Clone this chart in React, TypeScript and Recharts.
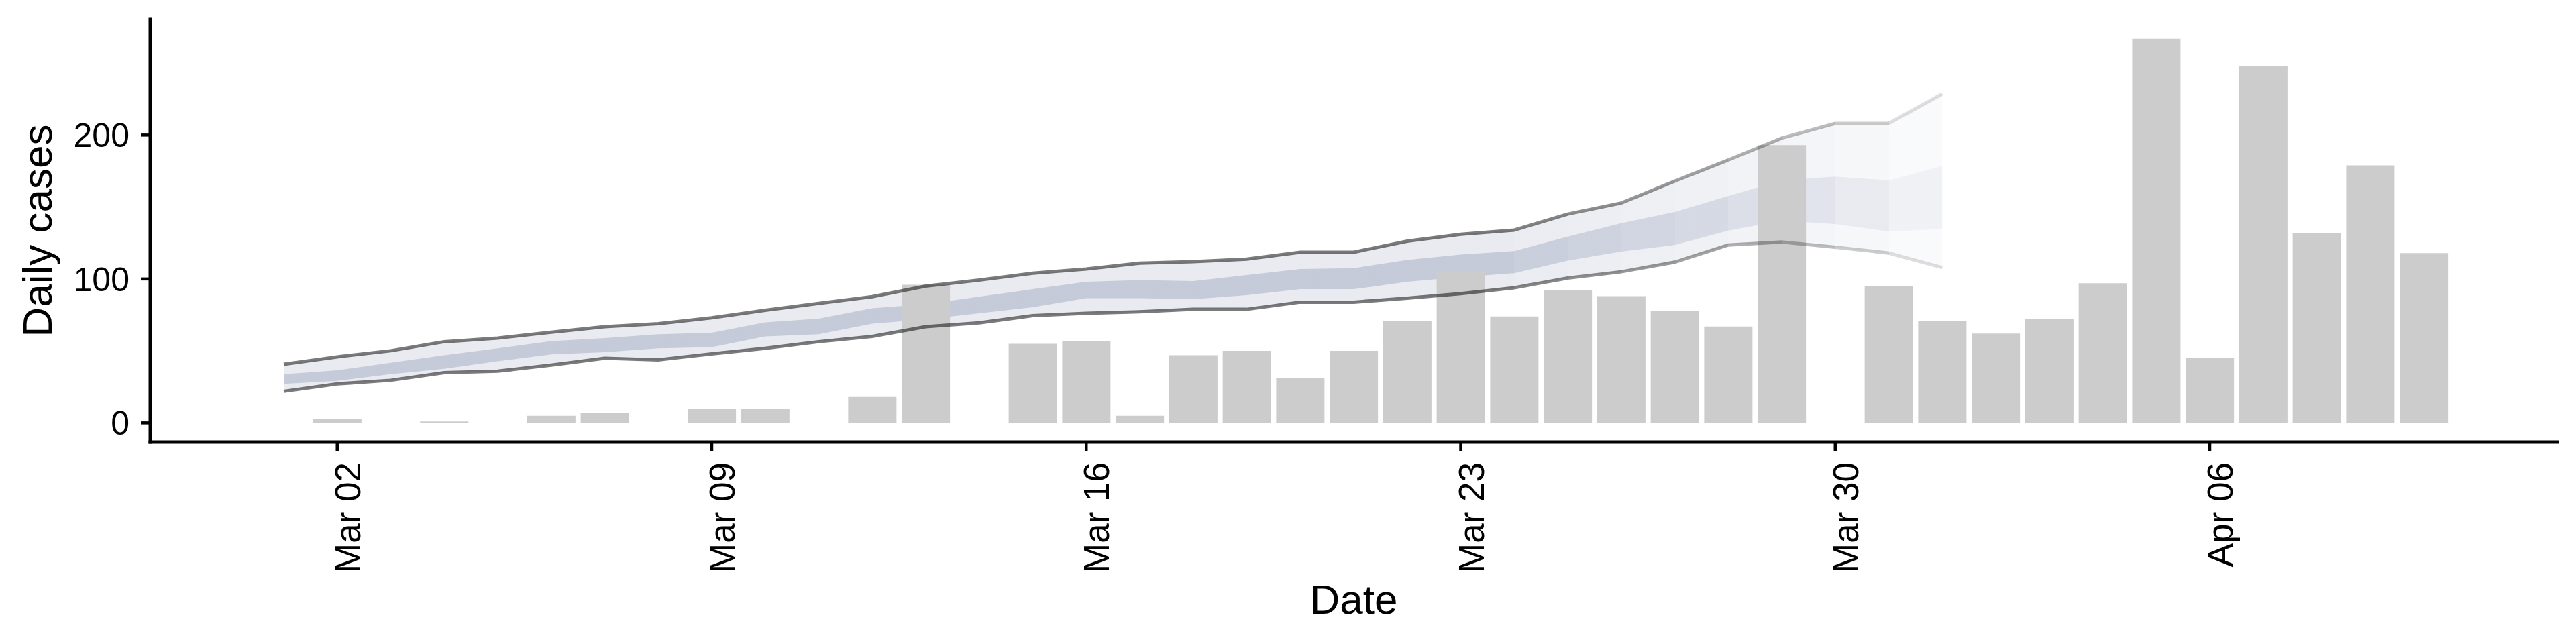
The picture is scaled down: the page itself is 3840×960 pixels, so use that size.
import React from "react";
import { ComposedChart, Bar, Area, Line, XAxis, YAxis } from "recharts";

// day index 0 = Mar 01
const tickDays = [1, 8, 15, 22, 29, 36];
const tickLabels = ["Mar 02", "Mar 09", "Mar 16", "Mar 23", "Mar 30", "Apr 06"];

// reported daily cases, Mar 01 .. Apr 10 (null = no bar)
const cases = [
  null, 3, null, 1, null, 5, 7, null, 10, 10, null, 18, 96, null, 55, 57, 5,
  47, 50, 31, 50, 71, 105, 74, 92, 88, 78, 67, 193, null, 95, 71, 62, 72, 97,
  267, 45, 248, 132, 179, 118,
];

// estimated cases, Mar 01 .. Apr 01
const lo90 = [
  21.9, 27.1, 29.6, 34.9, 35.9, 40.1, 44.9, 43.8, 48, 51.8, 56.4, 60.1, 66.8,
  69.5, 74.5, 76.2, 77.2, 78.9, 78.9, 83.9, 83.9, 86.6, 89.8, 93.9, 100.6, 105,
  111.7, 123.6, 125.7, 122.1, 118, 107.9,
];
const hi90 = [
  40.7, 45.9, 50.1, 56.4, 58.9, 63, 66.8, 68.9, 73, 78.3, 83, 87.7, 95, 99.2,
  104, 106.9, 111, 112.1, 113.8, 118.6, 118.6, 126.3, 131.1, 134, 145.1, 152.8,
  168, 182.7, 197.9, 208.1, 208.1, 228.6,
];
const lo50 = [
  27.1, 29.2, 33.8, 37.6, 42.8, 47.6, 49.1, 51.8, 52.6, 60.1, 61.6, 68.9, 72,
  76.2, 80.4, 86.6, 86.6, 86, 88.7, 92.9, 92.9, 98.1, 101.3, 104, 112.7, 119,
  123.6, 133.6, 140.5, 138.2, 133, 134.7,
];
const hi50 = [
  33.8, 36.5, 41.8, 47, 51.8, 56.8, 58.9, 61.6, 62.6, 69.9, 72.4, 79.7, 82.5,
  87.7, 92.9, 98.1, 99.2, 98.5, 102.7, 106.9, 107.5, 113.2, 116.9, 119.4, 129.4,
  138.8, 146.6, 157.6, 168.5, 171.2, 168.5, 178.5,
];

// opacity multiplier for each day-to-day segment of the estimate (recent days fade)
const fade = [
  1, 1, 1, 1, 1, 1, 1, 1, 1, 1, 1, 1, 1, 1, 1, 1, 1, 1, 1, 1, 1, 1, 1,
  0.92, 0.85, 0.78, 0.7, 0.6, 0.5, 0.38, 0.25,
];

const data = cases.map((c, i) => ({
  day: i,
  cases: c,
  band90: i < lo90.length ? [lo90[i], hi90[i]] : null,
  band50: i < lo50.length ? [lo50[i], hi50[i]] : null,
  lo90: i < lo90.length ? lo90[i] : null,
  hi90: i < hi90.length ? hi90[i] : null,
}));

const FONT = "'Liberation Sans', Arial, Helvetica, sans-serif";

function fadeGradient(id: string, color: string, base: number) {
  const n = fade.length;
  return (
    <linearGradient id={id} x1="0" y1="0" x2="1" y2="0">
      {fade.flatMap((m, k) => [
        <stop key={k + "a"} offset={k / n} stopColor={color} stopOpacity={base * m} />,
        <stop key={k + "b"} offset={(k + 1) / n} stopColor={color} stopOpacity={base * m} />,
      ])}
    </linearGradient>
  );
}

const XTick = (props: any) => {
  const { x, y, payload } = props;
  const label = tickLabels[tickDays.indexOf(payload.value)];
  const tx = x + 34;
  return (
    <text
      x={tx}
      y={y}
      transform={`rotate(-90, ${tx}, ${y})`}
      textAnchor="end"
      fontSize={53}
      fontFamily={FONT}
      fill="#000"
    >
      {label}
    </text>
  );
};

export default function App() {
  return (
    <div style={{ position: "absolute", left: 0, top: 0, background: "#fff" }}>
      <ComposedChart
        width={3840}
        height={960}
        data={data}
        margin={{ top: 29, right: 28, bottom: 0, left: 0 }}
        style={{ fontFamily: FONT }}
      >
        <defs>
          {fadeGradient("g90", "#23376f", 0.1)}
          {fadeGradient("g50", "#23376f", 0.18)}
          {fadeGradient("gline", "#000000", 0.52)}
        </defs>
        <XAxis
          dataKey="day"
          type="number"
          domain={[-2.495, 42.495]}
          allowDataOverflow
          ticks={tickDays}
          interval={0}
          height={301}
          tick={<XTick />}
          tickSize={14}
          tickMargin={16}
          axisLine={{ stroke: "#000", strokeWidth: 5, strokeLinecap: "square" }}
          tickLine={{ stroke: "#000", strokeWidth: 4.5 }}
          label={{
            content: (p: any) => {
              const vb = p.viewBox;
              return (
                <text
                  x={vb.x + vb.width / 2}
                  y={vb.y + 256}
                  textAnchor="middle"
                  fontSize={62}
                  fontFamily={FONT}
                  fill="#000"
                >
                  Date
                </text>
              );
            },
          }}
        />
        <YAxis
          type="number"
          domain={[-13.35, 280.35]}
          allowDataOverflow
          ticks={[0, 100, 200]}
          width={224}
          tickSize={14}
          tickMargin={17}
          tick={{ fontSize: 50, fill: "#000", fontFamily: FONT }}
          axisLine={{ stroke: "#000", strokeWidth: 5, strokeLinecap: "square" }}
          tickLine={{ stroke: "#000", strokeWidth: 4.5 }}
          label={{
            content: (p: any) => {
              const vb = p.viewBox;
              const lx = vb.x + 77;
              const ly = vb.y + vb.height / 2;
              return (
                <text
                  x={lx}
                  y={ly}
                  transform={`rotate(-90, ${lx}, ${ly})`}
                  textAnchor="middle"
                  fontSize={62}
                  fontFamily={FONT}
                  fill="#000"
                >
                  Daily cases
                </text>
              );
            },
          }}
        />
        <Bar dataKey="cases" fill="#cccccc" barSize={72} isAnimationActive={false} />
        <Area
          dataKey="band90"
          type="linear"
          fill="url(#g90)"
          fillOpacity={1}
          stroke="none"
          isAnimationActive={false}
          activeDot={false}
        />
        <Area
          dataKey="band50"
          type="linear"
          fill="url(#g50)"
          fillOpacity={1}
          stroke="none"
          isAnimationActive={false}
          activeDot={false}
        />
        <Line
          dataKey="hi90"
          type="linear"
          stroke="url(#gline)"
          strokeWidth={5}
          dot={false}
          activeDot={false}
          isAnimationActive={false}
        />
        <Line
          dataKey="lo90"
          type="linear"
          stroke="url(#gline)"
          strokeWidth={5}
          dot={false}
          activeDot={false}
          isAnimationActive={false}
        />
      </ComposedChart>
    </div>
  );
}
